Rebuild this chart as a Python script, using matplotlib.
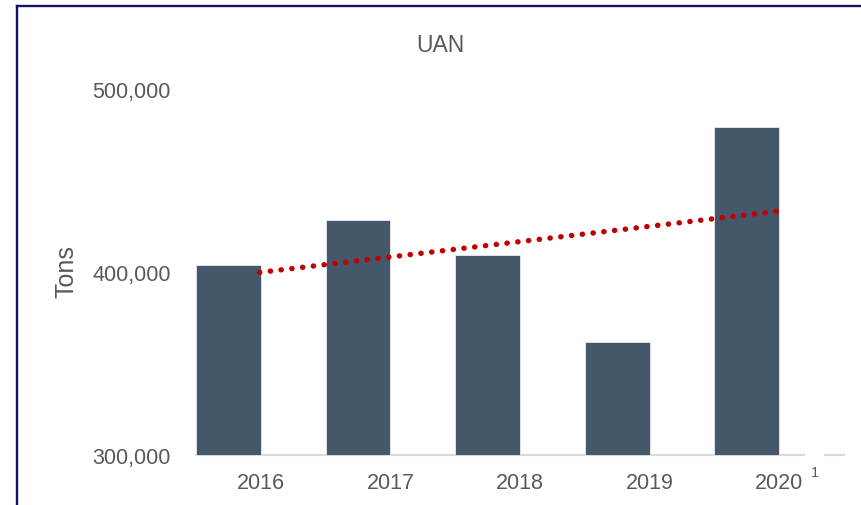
import matplotlib.pyplot as plt
import numpy as np
from matplotlib.lines import Line2D
from matplotlib.ticker import FuncFormatter

plt.rcParams["font.family"] = ["Liberation Sans", "DejaVu Sans"]

years = ["2016", "2017", "2018", "2019", "2020"]
tons = [404000, 428400, 409300, 361700, 479200]
y_ticks = [300000, 400000, 500000]

W, H = 861, 506
fig = plt.figure(figsize=(W / 100, H / 100), dpi=100)

# axes placed in pixel coordinates of the reference
ax_left, ax_right, ax_top, ax_bottom = 196, 844, 90, 456
ax = fig.add_axes([ax_left / W, 1 - ax_bottom / H,
                   (ax_right - ax_left) / W, (ax_bottom - ax_top) / H])

x = np.arange(len(years))
ax.bar(x, tons, width=0.5, color="#44576B", edgecolor="#E8ECF0", linewidth=0.6, zorder=2)

# linear trend line (Excel style), drawn shifted by a quarter category
slope, intercept = np.polyfit(x, tons, 1)
ax.plot(x + 0.24, slope * x + intercept, color="#C00000", linewidth=3.9,
        linestyle=(0, (0.05, 1.95)), dash_capstyle="round", zorder=3)

ax.set_xlim(-0.25, 4.75)
ax.set_ylim(300000, 500000)
# category labels sit a quarter category to the right of the bars
ax.set_xticks(x + 0.25)
ax.set_xticklabels(years)
ax.set_yticks(y_ticks)
ax.yaxis.set_major_formatter(FuncFormatter(lambda v, p: f"{int(v):,}"))
ax.tick_params(axis="both", length=0, labelsize=15.5, colors="#595959")
ax.tick_params(axis="x", pad=12)
ax.tick_params(axis="y", pad=18)

for s in ["top", "right", "left", "bottom"]:
    ax.spines[s].set_visible(False)
# baseline with the small break next to the footnote
ax.plot([-0.25, 4.44], [300000, 300000], color="#D9D9D9", linewidth=1.5,
        clip_on=False, zorder=1)
ax.plot([4.60, 4.75], [300000, 300000], color="#D9D9D9", linewidth=1.5,
        clip_on=False, zorder=1)

fig.text(440 / W, 1 - 45 / H, "UAN", ha="center", va="center", fontsize=16.5, color="#595959")
fig.text(66 / W, 1 - 272 / H, "Tons", ha="center", va="center", rotation=90,
         fontsize=18, color="#595959")
fig.text(815 / W, 1 - 473 / H, "1", ha="center", va="center", fontsize=10.5, color="#595959")

# outer navy frame (left and top edges visible)
navy = "#12126A"
fig.add_artist(Line2D([16.5 / W, 16.5 / W], [0, 1 - 7 / H], color=navy, linewidth=1.7,
                      transform=fig.transFigure))
fig.add_artist(Line2D([16.5 / W, 1], [1 - 7 / H, 1 - 7 / H], color=navy, linewidth=1.7,
                      transform=fig.transFigure))

fig.savefig("out.png", dpi=100)
